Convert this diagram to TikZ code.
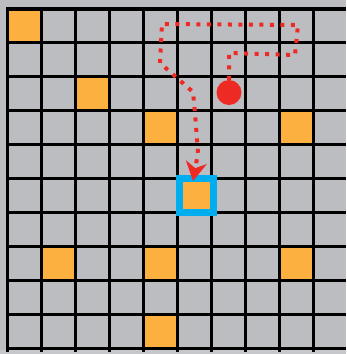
\documentclass[tikz,border=0pt]{standalone}
\usetikzlibrary{arrows.meta}
\definecolor{cellgray}{RGB}{188,189,193}
\definecolor{lightgray2}{RGB}{198,199,202}
\definecolor{cellorange}{RGB}{251,176,64}
\definecolor{pathred}{RGB}{238,42,36}
\definecolor{goalblue}{RGB}{0,174,239}
\tikzset{
  gridline/.style={line width=3.4pt, black},
  orangecell/.style={fill=cellorange},
  routeline/.style={pathred, line width=4pt, dash pattern=on 4pt off 6.5pt},
  goalbox/.style={draw=goalblue, line width=7pt, minimum width=34pt, minimum height=34pt, inner sep=0pt},
  startdot/.style={circle, fill=pathred, minimum size=25pt, inner sep=0pt}
}
\newcommand{\cx}[1]{7.5+34*#1}
\newcommand{\ry}[1]{8.8+33.95*#1}
\begin{document}
\begin{tikzpicture}[x=1pt,y=-1pt]
\useasboundingbox (0,0) rectangle (346,354);
\fill[cellgray] (0,0) rectangle (346,354);
\fill[lightgray2] (0,350) rectangle (346,354);
% orange cells
\foreach \c/\r in {0/0, 2/2, 4/3, 8/3, 5/5, 1/7, 4/7, 8/7, 4/9}{
  \fill[orangecell] ({\cx{\c}},{\ry{\r}}) rectangle ({\cx{\c}+34},{\ry{\r}+33.95});
}
% grid
\foreach \k in {0,...,9}{
  \draw[gridline] ({\cx{\k}},7) -- ({\cx{\k}},352);
}
\foreach \k in {0,...,10}{
  \draw[gridline] (5.8,{\ry{\k}}) -- (346,{\ry{\k}});
}
% goal and start
\node[goalbox] (goal) at (196,195) {};
\node[startdot] (start) at (229,92.5) {};
\coordinate (tipend) at (193,181);
\draw[routeline, -{Stealth[length=19pt,width=21pt,inset=6pt]}]
  (start.north) -- (229,53) -- (295,55) -- (298,25) -- (162,24) -- (160,63)
  -- (193,92) -- (195,113) -- (198,153) -- (tipend);
\end{tikzpicture}
\end{document}
